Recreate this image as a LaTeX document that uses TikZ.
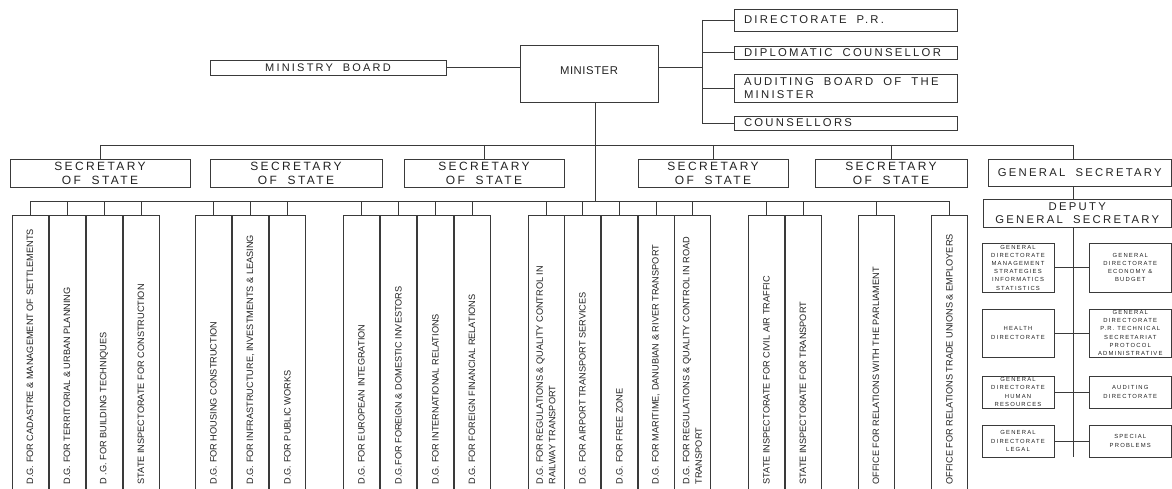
\documentclass[tikz,border=0pt]{standalone}
\usepackage{fontspec}
\setmainfont{Liberation Sans}
\newfontfamily\widefont[LetterSpace=20]{Liberation Sans}
\usepackage{xcolor}
\usepackage{tikz}
\usetikzlibrary{positioning,%
  calc
}
\definecolor{inkline}{HTML}{3A3A3A}
\definecolor{inktext}{HTML}{222222}
\newcommand{\wsp}{\hspace{0.9em}}
\newcommand{\dglabel}[1]{\rotatebox{90}{\parbox{258pt}{\raggedright #1}}}
\tikzset{
  orgbox/.style={draw=inkline, line width=0.9pt, inner sep=0pt, text=inktext},
  topbox/.style={orgbox, font=\widefont\fontsize{11}{13}\selectfont},
  sidebox/.style={orgbox, font=\widefont\fontsize{11.3}{12.5}\selectfont, text width=203pt, inner xsep=10pt, align=left},
  secbox/.style={orgbox, font=\widefont\fontsize{12}{14}\selectfont, align=center, minimum height=28pt},
  dgbox/.style={orgbox, font=\fontsize{9.2}{12.5}\selectfont, minimum width=36pt, minimum height=280pt, anchor=north},
  unitbox/.style={orgbox, font=\widefont\fontsize{5.9}{8.2}\selectfont, align=center},
  link/.style={draw=inkline, line width=0.9pt}
}
\begin{document}
\begin{tikzpicture}[x=1pt,y=-1pt]
                    \useasboundingbox (0,0) rectangle (1172,489);
                    \clip (0,0) rectangle (1172,489);
                    \node[topbox, minimum width=236pt, minimum height=15pt] (board) at (328,67.5) {MINISTRY\wsp BOARD};
                    \node[orgbox, font=\fontsize{11.3}{13}\selectfont\addfontfeature{LetterSpace=5}, minimum width=138pt, minimum height=57pt] (minister) at (589,73.5) {\raisebox{5pt}{MINISTER}};
                    \node[sidebox, minimum height=22pt] (dirpr) at (845.5,20) {DIRECTORATE\wsp P.R.};
                    \node[sidebox, minimum height=13pt] (diplo) at (845.5,52.5) {DIPLOMATIC\wsp COUNSELLOR};
                    \node[sidebox, minimum height=28pt] (audit) at (845.5,88) {AUDITING\wsp BOARD\wsp OF\wsp THE\\MINISTER};
                    \node[sidebox, minimum height=14pt] (couns) at (845.5,123) {COUNSELLORS};
                    \coordinate (brk) at (702,67.5);
                    \draw[link] (board.east) -- (board.east -| minister.west);
                    \draw[link] (minister.east |- brk) -- (brk);
                    \draw[link] (brk |- dirpr.west) -- (brk |- couns.west);
                    \draw[link] (brk |- dirpr.west) -- (dirpr.west)
                        (brk |- diplo.west) -- (diplo.west)
                        (brk |- audit.west) -- (audit.west)
                        (brk |- couns.west) -- (couns.west);
                    \node[secbox, minimum width=180pt] (sec1) at (100,173) {SECRETARY\\OF\wsp STATE};
                    \node[secbox, minimum width=172pt] (sec2) at (296,173) {SECRETARY\\OF\wsp STATE};
                    \node[secbox, minimum width=160pt] (sec3) at (484,173) {SECRETARY\\OF\wsp STATE};
                    \node[secbox, minimum width=150pt] (sec4) at (713,173) {SECRETARY\\OF\wsp STATE};
                    \node[secbox, minimum width=152pt] (sec5) at (891,173) {SECRETARY\\OF\wsp STATE};
                    \node[secbox, font=\widefont\fontsize{11.3}{13.5}\selectfont, minimum width=183.5pt, minimum height=27pt] (gensec) at (1079.75,172.5) {GENERAL\wsp SECRETARY};
                    \node[secbox, font=\widefont\fontsize{11.3}{13}\selectfont, minimum width=188.5pt] (deputy) at (1077.25,213) {DEPUTY\\GENERAL\wsp SECRETARY};
                    \coordinate (secbus) at (100,145);
                    \coordinate (gsaxis) at (1073,145);
                    \coordinate (minaxis) at (595,201);
                    \draw[link] (secbus) -- (gsaxis);
                    \draw[link] (sec1.north |- secbus) -- (sec1.north)
                        (sec3.north |- secbus) -- (sec3.north)
                        (sec4.north |- secbus) -- (sec4.north)
                        (sec5.north |- secbus) -- (sec5.north)
                        (gsaxis) -- (gsaxis |- gensec.north)
                        (gensec.south -| gsaxis) -- (deputy.north -| gsaxis);
                    \draw[link] (minister.south -| minaxis) -- (minaxis);
                    \node[dgbox] (dg1) at (30,215) {\dglabel{D.G. FOR CADASTRE \& MANAGEMENT OF SETTLEMENTS}};
                    \node[dgbox] (dg2) at (67,215) {\dglabel{D.G. FOR TERRITORIAL \& URBAN PLANNING}};
                    \node[dgbox] (dg3) at (104,215) {\dglabel{D .G. FOR BUILDING TECHNIQUES}};
                    \node[dgbox] (dg4) at (141,215) {\dglabel{STATE INSPECTORATE FOR CONSTRUCTION}};
                    \node[dgbox] (dg5) at (213.5,215) {\dglabel{D.G. FOR HOUSING CONSTRUCTION}};
                    \node[dgbox] (dg6) at (250.5,215) {\dglabel{D.G. FOR INFRASTRUCTURE, INVESTMENTS \& LEASING}};
                    \node[dgbox] (dg7) at (287.5,215) {\dglabel{D.G. FOR PUBLIC WORKS}};
                    \node[dgbox] (dg8) at (361.5,215) {\dglabel{D.G. FOR EUROPEAN INTEGRATION}};
                    \node[dgbox] (dg9) at (398.5,215) {\dglabel{D.G.FOR FOREIGN \& DOMESTIC INVESTORS}};
                    \node[dgbox] (dg10) at (435.5,215) {\dglabel{D.G. FOR INTERNATIONAL RELATIONS}};
                    \node[dgbox] (dg11) at (472,215) {\dglabel{D.G. FOR FOREIGN FINANCIAL RELATIONS}};
                    \node[dgbox] (dg12) at (546,215) {\dglabel{D.G. FOR REGULATIONS \& QUALITY CONTROL IN\\RAILWAY TRANSPORT}};
                    \node[dgbox] (dg13) at (582.5,215) {\dglabel{D.G. FOR AIRPORT TRANSPORT SERVICES}};
                    \node[dgbox] (dg14) at (619.5,215) {\dglabel{D.G. FOR FREE ZONE}};
                    \node[dgbox] (dg15) at (656,215) {\dglabel{D.G. FOR MARITIME, DANUBIAN \& RIVER TRANSPORT}};
                    \node[dgbox] (dg16) at (692.5,215) {\dglabel{D.G. FOR REGULATIONS \& QUALITY CONTROL IN ROAD\\TRANSPORT}};
                    \node[dgbox] (dg17) at (766.5,215) {\dglabel{STATE INSPECTORATE FOR CIVIL AIR TRAFFIC}};
                    \node[dgbox] (dg18) at (803,215) {\dglabel{STATE INSPECTORATE FOR TRANSPORT}};
                    \node[dgbox] (dg19) at (876,215) {\dglabel{OFFICE FOR RELATIONS WITH THE PARLIAMENT}};
                    \node[dgbox] (dg20) at (949.5,215) {\dglabel{OFFICE FOR RELATIONS TRADE UNIONS \& EMPLOYERS}};
                    \draw[link] (dg1.north |- minaxis) -- (dg20.north |- minaxis);
                    \draw[link] (dg1.north) -- (dg1.north |- minaxis)
                        (dg2.north) -- (dg2.north |- minaxis)
                        (dg3.north) -- (dg3.north |- minaxis)
                        (dg4.north) -- (dg4.north |- minaxis)
                        (dg5.north) -- (dg5.north |- minaxis)
                        (dg6.north) -- (dg6.north |- minaxis)
                        (dg7.north) -- (dg7.north |- minaxis)
                        (dg8.north) -- (dg8.north |- minaxis)
                        (dg9.north) -- (dg9.north |- minaxis)
                        (dg10.north) -- (dg10.north |- minaxis)
                        (dg11.north) -- (dg11.north |- minaxis)
                        (dg12.north) -- (dg12.north |- minaxis)
                        (dg13.north) -- (dg13.north |- minaxis)
                        (dg14.north) -- (dg14.north |- minaxis)
                        (dg15.north) -- (dg15.north |- minaxis)
                        (dg16.north) -- (dg16.north |- minaxis)
                        (dg17.north) -- (dg17.north |- minaxis)
                        (dg18.north) -- (dg18.north |- minaxis)
                        (dg19.north) -- (dg19.north |- minaxis)
                        (dg20.north) -- (dg20.north |- minaxis);
                    \node[unitbox, minimum width=72pt, minimum height=49pt] (u1) at (1018,267.5) {GENERAL\\DIRECTORATE\\MANAGEMENT\\STRATEGIES\\INFORMATICS\\STATISTICS};
                    \node[unitbox, minimum width=82.5pt, minimum height=49pt] (u2) at (1130.25,267.5) {GENERAL\\DIRECTORATE\\ECONOMY \&\\BUDGET};
                    \node[unitbox, minimum width=72pt, minimum height=48pt] (u3) at (1018,333) {HEALTH\\DIRECTORATE};
                    \node[unitbox, minimum width=82.5pt, minimum height=48pt] (u4) at (1130.25,333) {GENERAL\\DIRECTORATE\\P.R. TECHNICAL\\SECRETARIAT\\PROTOCOL\\ADMINISTRATIVE};
                    \node[unitbox, minimum width=72pt, minimum height=32pt] (u5) at (1018,392) {GENERAL\\DIRECTORATE\\HUMAN\\RESOURCES};
                    \node[unitbox, minimum width=82.5pt, minimum height=32pt] (u6) at (1130.25,392) {AUDITING\\DIRECTORATE};
                    \node[unitbox, minimum width=72pt, minimum height=32pt] (u7) at (1018,441) {GENERAL\\DIRECTORATE\\LEGAL};
                    \node[unitbox, minimum width=82.5pt, minimum height=32pt] (u8) at (1130.25,441) {SPECIAL\\PROBLEMS};
                    \draw[link] (deputy.south -| gsaxis) -- (u8.south -| gsaxis);
                    \draw[link] (u1.east) -- (u2.west)
                        (u3.east) -- (u4.west)
                        (u5.east) -- (u6.west)
                        (u7.east) -- (u8.west);
\end{tikzpicture}
\end{document}
